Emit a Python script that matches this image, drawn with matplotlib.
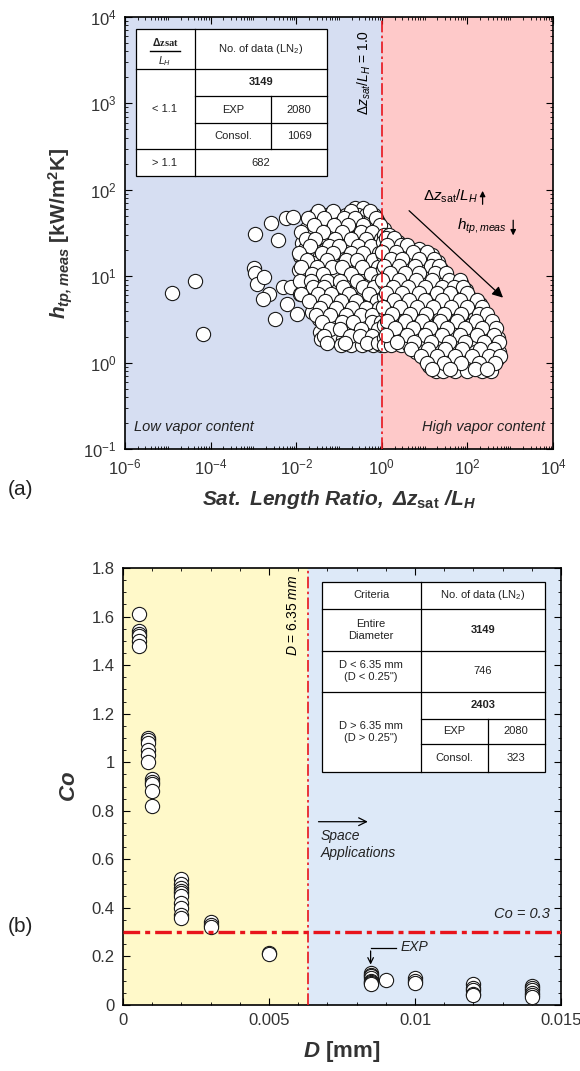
import matplotlib
matplotlib.use('Agg')
import matplotlib.pyplot as plt
import numpy as np
from matplotlib.lines import Line2D
from matplotlib.patches import Rectangle
from matplotlib.ticker import LogLocator, MultipleLocator, NullFormatter, FixedLocator

plt.rcParams['font.family'] = ['Liberation Sans', 'DejaVu Sans']
plt.rcParams['mathtext.fontset'] = 'custom'
plt.rcParams['mathtext.rm'] = 'Liberation Sans'
plt.rcParams['mathtext.it'] = 'Liberation Sans:italic'
plt.rcParams['mathtext.bf'] = 'Liberation Sans:bold'
plt.rcParams['mathtext.bfit'] = 'Liberation Sans:italic:bold'

# ---- (a) h_tp,meas vs saturated length ratio (log10 values, rows of equal h) ----
outlier_ratio_log = [-4.90, -4.37, -4.17, -2.96, -2.59, -2.43, -2.25, -2.07, -2.50,
                     -2.98, -2.96, -2.92, -2.75, -2.63, -2.77, -2.30, -2.22, -1.99,
                     -2.11, -1.91]
outlier_htp_log = [0.81, 0.95, 0.33, 1.49, 1.61, 1.42, 1.67, 1.68, 0.50,
                   1.10, 1.04, 0.91, 0.99, 0.79, 0.74, 0.87, 0.68, 0.56,
                   0.87, 0.79]

low_rows = [
    (1.79, [-0.63, -0.44]),
    (1.71, [-1.57, -1.28, -1.06, -0.83, -0.56, -0.36, -0.19]),
    (1.63, [-1.66, -1.43, -1.21, -0.97, -0.73, -0.51, -0.31, -0.09]),
    (1.55, [-1.76, -1.53, -1.32, -1.08, -0.86, -0.63, -0.41, -0.16, 0.04]),
    (1.47, [-1.71, -1.47, -1.23, -1.01, -0.78, -0.56, -0.29, -0.07]),
    (1.39, [-1.86, -1.62, -1.36, -1.13, -0.91, -0.68, -0.46, -0.21, 0.01]),
    (1.31, [-1.79, -1.54, -1.31, -1.06, -0.83, -0.61, -0.34, -0.11]),
    (1.23, [-1.91, -1.68, -1.44, -1.22, -0.98, -0.76, -0.49, -0.26, -0.03]),
    (1.15, [-1.84, -1.61, -1.36, -1.12, -0.88, -0.66, -0.39, -0.14]),
    (1.07, [-1.94, -1.71, -1.49, -1.26, -1.02, -0.79, -0.56, -0.31, -0.05]),
    (0.99, [-1.81, -1.56, -1.33, -1.09, -0.86, -0.63, -0.41, -0.17]),
    (0.91, [-1.72, -1.46, -1.21, -0.99, -0.76, -0.52, -0.27, -0.04]),
    (0.83, [-1.82, -1.57, -1.31, -1.07, -0.84, -0.59, -0.36, -0.12]),
    (0.75, [-1.66, -1.41, -1.16, -0.92, -0.69, -0.46, -0.22, -0.02]),
    (0.67, [-1.51, -1.26, -1.02, -0.79, -0.54, -0.31, -0.09]),
    (0.59, [-1.62, -1.39, -1.14, -0.91, -0.66, -0.43, -0.19, -0.01]),
    (0.51, [-1.47, -1.24, -0.99, -0.76, -0.51, -0.29, -0.07]),
    (0.43, [-1.36, -1.11, -0.86, -0.61, -0.37, -0.14]),
    (0.35, [-1.44, -1.29, -1.04, -0.81, -0.56, -0.31, -0.05]),
    (0.27, [-1.42, -1.16, -0.91, -0.66, -0.41, -0.16, -0.02]),
    (0.20, [-0.96, -0.71, -0.46, -0.21, -0.03]),
]
low_rows_b = [
    (1.75, [-1.48, -1.15, -0.71, -0.27]),
    (1.67, [-1.72, -1.35, -0.88, -0.62, -0.14]),
    (1.59, [-1.58, -1.12, -0.80, -0.45, -0.05]),
    (1.51, [-1.89, -1.38, -0.94, -0.48, -0.23]),
    (1.43, [-1.78, -1.56, -1.10, -0.71, -0.38, -0.02]),
    (1.35, [-1.67, -1.23, -0.99, -0.55, -0.26]),
    (1.27, [-1.93, -1.40, -1.14, -0.72, -0.44, -0.06]),
    (1.19, [-1.74, -1.28, -0.83, -0.58, -0.20]),
    (1.11, [-1.88, -1.52, -1.17, -0.94, -0.47, -0.09]),
    (1.03, [-1.63, -1.38, -0.72, -0.25]),
    (0.95, [-1.92, -1.66, -1.27, -0.98, -0.57, -0.10]),
    (0.87, [-1.60, -1.35, -0.91, -0.44, -0.19]),
    (0.79, [-1.88, -1.49, -1.19, -0.77, -0.31]),
    (0.71, [-1.71, -1.33, -0.95, -0.60, -0.12]),
    (0.63, [-1.45, -1.08, -0.70, -0.37, -0.06]),
    (0.55, [-1.53, -1.20, -0.84, -0.48, -0.24]),
    (0.47, [-1.40, -0.93, -0.67, -0.22, -0.01]),
    (0.39, [-1.21, -0.97, -0.48, -0.09]),
    (0.31, [-1.35, -0.74, -0.52, -0.24]),
    (0.23, [-1.28, -0.85, -0.35, -0.08]),
]

high_rows = [
    (1.48, [0.05, 0.16]),
    (1.40, [0.02, 0.21, 0.37]),
    (1.32, [0.08, 0.27, 0.49, 0.67, 0.88]),
    (1.24, [0.02, 0.19, 0.38, 0.57, 0.79, 0.97, 1.18]),
    (1.16, [0.11, 0.29, 0.51, 0.69, 0.91, 1.07, 1.31]),
    (1.08, [0.03, 0.23, 0.41, 0.63, 0.81, 1.01, 1.21, 1.39]),
    (1.00, [0.12, 0.33, 0.52, 0.71, 0.93, 1.11, 1.29, 1.47]),
    (0.92, [0.05, 0.24, 0.46, 0.64, 0.86, 1.04, 1.26, 1.44, 1.66, 1.84]),
    (0.84, [0.14, 0.36, 0.54, 0.76, 0.94, 1.16, 1.34, 1.56, 1.74, 1.96]),
    (0.76, [0.05, 0.26, 0.44, 0.66, 0.84, 1.06, 1.24, 1.46, 1.64, 1.86, 2.04]),
    (0.68, [0.16, 0.34, 0.56, 0.74, 0.96, 1.14, 1.36, 1.54, 1.76, 1.94, 2.16, 2.29]),
    (0.60, [0.08, 0.27, 0.49, 0.67, 0.89, 1.07, 1.29, 1.47, 1.69, 1.87, 2.09, 2.27]),
    (0.52, [0.18, 0.39, 0.57, 0.79, 0.97, 1.19, 1.37, 1.59, 1.77, 1.99, 2.17, 2.41]),
    (0.44, [0.05, 0.27, 0.49, 0.67, 0.89, 1.07, 1.29, 1.47, 1.69, 1.87, 2.09, 2.27, 2.51]),
    (0.36, [0.16, 0.37, 0.59, 0.77, 0.99, 1.17, 1.39, 1.57, 1.79, 1.97, 2.19, 2.37, 2.61]),
    (0.28, [0.05, 0.31, 0.49, 0.71, 0.89, 1.11, 1.29, 1.51, 1.69, 1.91, 2.09, 2.31, 2.49, 2.71]),
    (0.20, [0.05, 0.22, 0.46, 0.64, 0.86, 1.04, 1.26, 1.44, 1.66, 1.84, 2.06, 2.24, 2.46, 2.66]),
    (0.12, [0.81, 0.97, 1.19, 1.37, 1.59, 1.77, 1.99, 2.17, 2.39, 2.57, 2.73]),
    (0.04, [1.01, 1.19, 1.41, 1.59, 1.81, 1.99, 2.21, 2.39, 2.61, 2.70]),
    (-0.04, [1.11, 1.29, 1.51, 1.69, 1.91, 2.09, 2.31, 2.49]),
    (-0.10, [1.26, 1.44, 1.71, 1.99, 2.34, 2.56]),
]
high_rows_b = [
    (1.44, [0.10, 0.28]),
    (1.36, [0.13, 0.45, 0.60]),
    (1.28, [0.01, 0.33, 0.74, 1.05]),
    (1.20, [0.22, 0.47, 0.86, 1.22]),
    (1.12, [0.06, 0.40, 0.77, 1.14, 1.33]),
    (1.04, [0.18, 0.55, 0.87, 1.25, 1.50]),
    (0.96, [0.01, 0.40, 0.79, 1.18, 1.57, 1.82]),
    (0.88, [0.26, 0.61, 1.00, 1.40, 1.68, 1.90]),
    (0.80, [0.09, 0.47, 0.88, 1.30, 1.60, 2.00]),
    (0.72, [0.28, 0.63, 1.02, 1.41, 1.82, 2.22]),
    (0.64, [0.02, 0.43, 0.82, 1.20, 1.61, 2.00, 2.35]),
    (0.56, [0.24, 0.67, 1.03, 1.45, 1.86, 2.28, 2.45]),
    (0.48, [0.12, 0.55, 0.95, 1.35, 1.75, 2.20, 2.58]),
    (0.40, [0.30, 0.72, 1.13, 1.52, 1.94, 2.33, 2.66]),
    (0.32, [0.10, 0.58, 1.00, 1.40, 1.82, 2.22, 2.62]),
    (0.24, [0.35, 0.75, 1.16, 1.57, 1.95, 2.38, 2.74]),
    (0.16, [0.68, 1.08, 1.48, 1.88, 2.30, 2.62]),
    (0.08, [0.92, 1.30, 1.70, 2.10, 2.50, 2.76]),
    (0.00, [1.05, 1.45, 1.86, 2.26, 2.64]),
    (-0.07, [1.18, 1.60, 2.17, 2.45]),
]

# ---- (b) confinement number vs tube diameter ----
d_small = [0.00055] * 6 + [0.00085] * 6 + [0.0010] * 5 + [0.0020] * 10 + [0.0030] * 3 + [0.0050] * 2
co_small = [1.61, 1.54, 1.53, 1.52, 1.50, 1.48,
            1.10, 1.09, 1.08, 1.05, 1.03, 1.00,
            0.93, 0.92, 0.91, 0.88, 0.82,
            0.52, 0.50, 0.48, 0.47, 0.46, 0.45, 0.42, 0.40, 0.37, 0.36,
            0.34, 0.33, 0.32,
            0.215, 0.21]
d_large = [0.00848] * 8 + [0.0090] + [0.0100] * 3 + [0.0120] * 5 + [0.0140] * 6
co_large = [0.13, 0.125, 0.12, 0.11, 0.10, 0.095, 0.09, 0.085,
            0.103,
            0.11, 0.10, 0.09,
            0.085, 0.07, 0.06, 0.045, 0.04,
            0.08, 0.07, 0.06, 0.05, 0.04, 0.035]

W, H = 580, 1071
fig = plt.figure(figsize=(W / 100, H / 100), dpi=100)


def px(x, y):
    # pixel position (from top-left) -> figure fraction
    return x / W, 1 - y / H


def fline(x0, y0, x1, y1, lw=0.9):
    a, b = px(x0, y0)
    c, d = px(x1, y1)
    fig.add_artist(Line2D([a, c], [b, d], color='k', lw=lw, zorder=10))


def ftext(x, y, s, **kw):
    a, b = px(x, y)
    kw.setdefault('fontsize', 8)
    kw.setdefault('color', '#222222')
    fig.text(a, b, s, ha='center', va='center', zorder=11, **kw)


def fbox(x0, y0, x1, y1):
    a, b = px(x0, y1)
    fig.add_artist(Rectangle((a, b), (x1 - x0) / W, (y1 - y0) / H,
                             facecolor='white', edgecolor='k', lw=0.9,
                             transform=fig.transFigure, zorder=9))


red = '#e8141c'
circ = dict(s=105, facecolor='white', edgecolor='#1a1a1a', linewidths=0.8, zorder=3)
tick_kw = dict(which='both', direction='in', top=True, right=True, labelsize=12,
               labelcolor='#333333', pad=6)

# ================= (a) =================
ax1 = fig.add_axes([125 / W, 1 - 449 / H, 428 / W, 432 / H])
ax1.set_xscale('log')
ax1.set_yscale('log')
ax1.set_xlim(1e-6, 1e4)
ax1.set_ylim(1e-1, 1e4)
ax1.axvspan(1e-6, 1.0, color='#d6def2', zorder=0)
ax1.axvspan(1.0, 1e4, color='#fec9c9', zorder=0)
ax1.axvline(1.0, color=red, lw=1.2, ls=(0, (7, 2, 1.5, 2)), zorder=4)

xs, ys = list(outlier_ratio_log), list(outlier_htp_log)
for rows_a, rows_b in ((low_rows, low_rows_b), (high_rows, high_rows_b)):
    for hy, row in rows_a + rows_b:
        xs += row
        ys += [hy] * len(row)
ax1.scatter(10 ** np.array(xs), 10 ** np.array(ys), **circ)

ax1.xaxis.set_major_locator(FixedLocator([1e-6, 1e-4, 1e-2, 1e0, 1e2, 1e4]))
ax1.xaxis.set_minor_locator(LogLocator(base=10, subs=np.arange(1, 10), numticks=40))
ax1.xaxis.set_minor_formatter(NullFormatter())
ax1.yaxis.set_major_locator(LogLocator(base=10, numticks=20))
ax1.yaxis.set_minor_locator(LogLocator(base=10, subs=np.arange(2, 10), numticks=40))
ax1.yaxis.set_minor_formatter(NullFormatter())
ax1.tick_params(**tick_kw)
ax1.tick_params(which='major', length=5)
ax1.tick_params(which='minor', length=2.5)
for s in ax1.spines.values():
    s.set_linewidth(1.2)

ax1.set_ylabel(r'$\mathbfit{h}_{\mathbfit{tp,meas}}$ [kW/m$^\mathbf{2}$K]',
               fontsize=15, fontweight='bold', color='#333333', labelpad=6)
ax1.set_xlabel(r'$\mathbfit{Sat.\ Length\ Ratio,\ \Delta z}_{\mathbf{sat}}\mathbfit{\ /L_H}$',
               fontsize=15, color='#333333', labelpad=8)

ax1.text(10 ** -0.4, 10 ** 3.85, r'$\Delta z_{sat}/L_H$ = 1.0', rotation=90,
         ha='center', va='top', fontsize=10, zorder=6)
ax1.annotate('', xy=(10 ** 2.88, 10 ** 0.73), xytext=(10 ** 0.59, 10 ** 1.78),
             arrowprops=dict(arrowstyle='-|>', lw=0.9, color='k', mutation_scale=16),
             zorder=6)
ax1.text(10 ** 0.96, 10 ** 1.93, r'$\Delta z_{\rm sat}/L_H$', ha='left', va='center',
         fontsize=11, zorder=6)
ax1.annotate('', xy=(10 ** 2.355, 10 ** 2.02), xytext=(10 ** 2.355, 10 ** 1.80),
             arrowprops=dict(arrowstyle='-|>', lw=0.9, color='k', mutation_scale=8))
ax1.text(10 ** 1.76, 10 ** 1.575, r'$h_{tp,meas}$', ha='left', va='center',
         fontsize=11, zorder=6)
ax1.annotate('', xy=(10 ** 3.07, 10 ** 1.44), xytext=(10 ** 3.07, 10 ** 1.68),
             arrowprops=dict(arrowstyle='-|>', lw=0.9, color='k', mutation_scale=8))
ax1.text(0.022, 0.05, 'Low vapor content', transform=ax1.transAxes, style='italic',
         fontsize=10.5, ha='left', va='center', color='#222222')
ax1.text(0.982, 0.05, 'High vapor content', transform=ax1.transAxes, style='italic',
         fontsize=10.5, ha='right', va='center', color='#222222')

# table (a)
fbox(136, 29, 327, 176)
fline(136, 69, 327, 69)
fline(136, 149, 327, 149)
fline(195, 29, 195, 176)
fline(195, 96, 327, 96)
fline(195, 123, 327, 123)
fline(271, 96, 271, 149)
ftext(165, 42, r'$\mathbf{\Delta}$zsat', family='Liberation Serif', fontweight='bold', fontsize=7.5)
fline(150, 51, 180, 51, lw=1.0)
ftext(165, 61, r'$L_H$', family='Liberation Serif', fontsize=7.5)
ftext(261, 49, r'No. of data (LN$_2$)')
ftext(165, 109, '< 1.1')
ftext(261, 82, '3149', fontweight='bold')
ftext(233, 110, 'EXP')
ftext(299, 110, '2080')
ftext(233, 136, 'Consol.')
ftext(299, 136, '1069')
ftext(165, 163, '> 1.1')
ftext(261, 163, '682')

# ================= (b) =================
ax2 = fig.add_axes([123 / W, 1 - 1005 / H, 438 / W, 437 / H])
ax2.set_xlim(0, 0.015)
ax2.set_ylim(0, 1.8)
ax2.axvspan(0, 0.00635, color='#fff9c9', zorder=0)
ax2.axvspan(0.00635, 0.015, color='#dde9f8', zorder=0)
ax2.axvline(0.00635, color=red, lw=1.2, ls=(0, (7, 2, 1.5, 2)), zorder=4)
ax2.axhline(0.3, color=red, lw=2.4, ls=(0, (5, 1.5, 1.5, 1.5)), zorder=4)
ax2.scatter(d_small, co_small, **circ)
ax2.scatter(d_large, co_large, **circ)

ax2.xaxis.set_major_locator(FixedLocator([0, 0.005, 0.01, 0.015]))
ax2.set_xticklabels(['0', '0.005', '0.01', '0.015'])
ax2.xaxis.set_minor_locator(MultipleLocator(0.001))
ax2.yaxis.set_major_locator(FixedLocator(np.arange(0, 1.81, 0.2)))
ax2.set_yticklabels(['0', '0.2', '0.4', '0.6', '0.8', '1', '1.2', '1.4', '1.6', '1.8'])
ax2.yaxis.set_minor_locator(MultipleLocator(0.05))
ax2.tick_params(**tick_kw)
ax2.tick_params(which='major', length=5)
ax2.tick_params(which='minor', length=2.5)
for s in ax2.spines.values():
    s.set_linewidth(1.2)

ax2.set_ylabel(r'$\mathbfit{Co}$', fontsize=16, color='#333333', labelpad=8)
ax2.set_xlabel(r'$\mathbfit{D}$ [mm]', fontsize=16, fontweight='bold', color='#333333',
               labelpad=8)

ax2.text(0.00582, 1.77, r'$D$ = 6.35 $mm$', rotation=90, ha='center', va='top',
         fontsize=10, zorder=6)
ax2.annotate('', xy=(0.00848, 0.755), xytext=(0.00660, 0.755),
             arrowprops=dict(arrowstyle='->', lw=0.9, color='k', mutation_scale=14))
ax2.text(0.00677, 0.725, 'Space\nApplications', style='italic', ha='left', va='top',
         fontsize=10, linespacing=1.3, color='#222222')
ax2.text(0.01462, 0.373, 'Co = 0.3', style='italic', ha='right', va='center',
         fontsize=10.5, color='#222222')
ax2.plot([0.00935, 0.00848], [0.233, 0.233], color='k', lw=0.9, zorder=6)
ax2.annotate('', xy=(0.00848, 0.155), xytext=(0.00848, 0.234),
             arrowprops=dict(arrowstyle='->', lw=0.9, color='k', mutation_scale=10))
ax2.text(0.0095, 0.24, 'EXP', style='italic', ha='left', va='center', fontsize=10,
         color='#222222')

# table (b)
fbox(322, 582, 545, 772)
fline(322, 609, 545, 609)
fline(322, 651, 545, 651)
fline(322, 692, 545, 692)
fline(421, 582, 421, 772)
fline(421, 719, 545, 719)
fline(421, 744, 545, 744)
fline(488, 719, 488, 772)
ftext(371, 595, 'Criteria')
ftext(483, 595, r'No. of data (LN$_2$)')
ftext(371, 630, 'Entire\nDiameter', linespacing=1.3)
ftext(483, 630, '3149', fontweight='bold')
ftext(371, 671, 'D < 6.35 mm\n(D < 0.25")', linespacing=1.3)
ftext(483, 671, '746')
ftext(371, 732, 'D > 6.35 mm\n(D > 0.25")', linespacing=1.3)
ftext(483, 705, '2403', fontweight='bold')
ftext(454, 731, 'EXP')
ftext(516, 731, '2080')
ftext(454, 758, 'Consol.')
ftext(516, 758, '323')

fig.text(*px(8, 490), '(a)', fontsize=15, ha='left', va='center', color='#222222')
fig.text(*px(8, 927), '(b)', fontsize=15, ha='left', va='center', color='#222222')

fig.savefig('out.png', dpi=100, facecolor='white')
